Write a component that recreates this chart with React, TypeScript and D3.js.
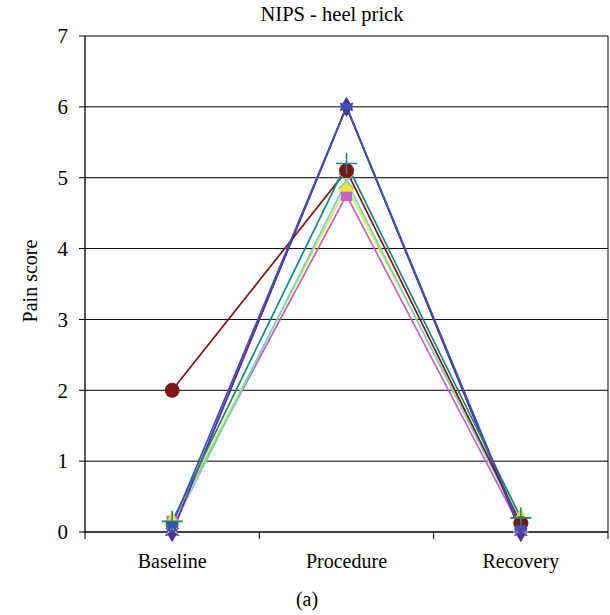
import React from 'react';
import * as d3 from 'd3';

const categories = ['Baseline', 'Procedure', 'Recovery'];
const yTicks = [0, 1, 2, 3, 4, 5, 6, 7];

// Excel-2003 style series, in drawing order
const seriesNames = ['s1', 's2', 's3', 's4', 's5', 's6', 's7', 's8'];
const navyValues = [0, 6, 0];
const magentaValues = [0.15, 4.75, 0.05];
const yellowValues = [0.15, 4.87, 0.2];
const cyanValues = [0.05, 4.95, 0.1];
const purpleValues = [0, 6, 0];
const darkRedValues = [2, 5.1, 0.12];
const tealValues = [0.15, 5.2, 0.2];
const blueValues = [0.1, 6, 0.05];

const seriesValues = [navyValues, magentaValues, yellowValues, cyanValues, purpleValues, darkRedValues, tealValues, blueValues];
const seriesColors = ['#34379A', '#C462C4', '#EEE43A', '#72D0D6', '#6E2D96', '#7E1418', '#168884', '#3A52B2'];
const seriesMarkers = ['diamond', 'square', 'triangle', 'times', 'asterisk', 'circle', 'plus', 'dash'];

const W = 610;
const H = 615;
const left = 85;
const right = 608;
const top = 36;
const bottom = 532;
const font = '"Liberation Serif", "DejaVu Serif", serif';

const x = d3.scaleBand<string>().domain(categories).range([left, right]).paddingInner(0).paddingOuter(0);
const y = d3.scaleLinear().domain([0, 7]).range([bottom, top]);
const cx = (c: string) => (x(c) as number) + x.bandwidth() / 2;

const line = d3
	.line<number>()
	.x((_, i) => cx(categories[i]))
	.y((d) => y(d));

function Marker({ kind, color, px, py }: { kind: string; color: string; px: number; py: number }) {
	const t = `translate(${px},${py})`;
	if (kind === 'dash') {
		return <rect x={px - 6} y={py - 3} width={12} height={6} fill={color} />;
	}
	if (kind === 'times' || kind === 'asterisk' || kind === 'plus') {
		const type = kind === 'times' ? d3.symbolTimes : kind === 'plus' ? d3.symbolPlus : d3.symbolAsterisk;
		const path = d3.symbol().type(type).size(150)() as string;
		return <path d={path} transform={t} fill="none" stroke={color} strokeWidth={1.6} />;
	}
	const type =
		kind === 'diamond'
			? d3.symbolDiamond
			: kind === 'square'
			? d3.symbolSquare
			: kind === 'triangle'
			? d3.symbolTriangle
			: d3.symbolCircle;
	const size = kind === 'circle' ? 175 : kind === 'diamond' ? 120 : 125;
	const path = d3.symbol().type(type).size(size)() as string;
	return <path d={path} transform={t} fill={color} />;
}

export default function App() {
	return (
		<svg width={W} height={H} style={{ position: 'absolute', left: 0, top: 0, background: '#fff' }}>
			<rect x={0} y={0} width={W} height={H} fill="#fff" />
			<text x={332} y={21} textAnchor="middle" fontFamily={font} fontSize={20.5}>
				NIPS - heel prick
			</text>

			{yTicks.map((t) => (
				<g key={t}>
					{t > 0 && <line x1={left} x2={right} y1={y(t)} y2={y(t)} stroke="#000" strokeWidth={1} />}
					<line x1={left - 6} x2={left} y1={y(t)} y2={y(t)} stroke="#000" strokeWidth={1} />
					<text x={68} y={y(t)} dy="0.35em" textAnchor="end" fontFamily={font} fontSize={21}>
						{t}
					</text>
				</g>
			))}
			<line x1={left} x2={left} y1={top} y2={bottom + 1} stroke="#000" strokeWidth={1.3} />
			<line x1={right} x2={right} y1={top} y2={bottom} stroke="#000" strokeWidth={1} />
			<line x1={left} x2={right} y1={bottom} y2={bottom} stroke="#000" strokeWidth={1.3} />
			{[...categories.map((c) => x(c) as number), right].map((p, i) => (
				<line key={i} x1={p} x2={p} y1={bottom} y2={bottom + 7} stroke="#000" strokeWidth={1} />
			))}
			{categories.map((c) => (
				<text key={c} x={cx(c)} y={568} textAnchor="middle" fontFamily={font} fontSize={20}>
					{c}
				</text>
			))}
			<text transform={`translate(37,281) rotate(-90)`} textAnchor="middle" fontFamily={font} fontSize={20}>
				Pain score
			</text>
			<text x={307} y={606} textAnchor="middle" fontFamily={font} fontSize={20}>
				(a)
			</text>

			{seriesNames.map((s, si) => (
				<path key={s} d={line(seriesValues[si]) as string} fill="none" stroke={seriesColors[si]} strokeWidth={1.7} />
			))}
			{seriesNames.map((s, si) => (
				<g key={s}>
					{seriesValues[si].map((v, i) => (
						<Marker key={i} kind={seriesMarkers[si]} color={seriesColors[si]} px={cx(categories[i])} py={y(v)} />
					))}
				</g>
			))}
		</svg>
	);
}
